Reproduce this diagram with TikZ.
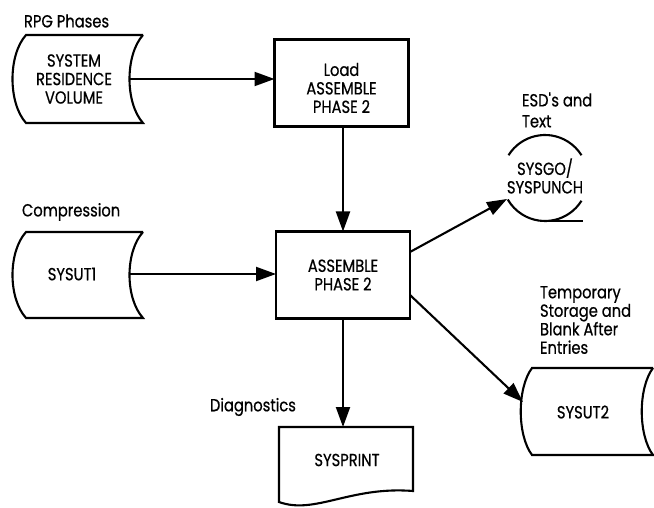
\documentclass[tikz,border=0pt]{standalone}
\usepackage{fontspec}
\setmainfont{Poppins}[FakeStretch=0.84, FakeBold=0.6]
\usetikzlibrary{arrows.meta}
\begin{document}
\begin{tikzpicture}[x=1pt,y=-1pt,
  line width=2.1pt,
  every node/.style={inner sep=0pt, outer sep=0pt, align=center,
    font=\fontsize{17.5}{18.5}\selectfont},
  lbl/.style={align=left, anchor=west},
  flow/.style={-{Triangle[length=20pt,width=14pt]}},
  procbox/.style={draw, minimum width=134pt, minimum height=87pt},
]
\useasboundingbox (0,0) rectangle (654,508);

% --- online storage: system residence volume
\draw (143,35) -- (26,35) .. controls (8,55) and (8,103) .. (26,123)
      -- (143,123) .. controls (125,103) and (125,55) .. (143,35);
\node (srv) at (74,79) {SYSTEM\\RESIDENCE\\VOLUME};
\coordinate (srvout) at (129,79);
\node[lbl] (rpg) at (24,21) {RPG Phases};

% --- online storage: SYSUT1
\draw (143,232) -- (26,232) .. controls (8,252) and (8,298) .. (26,318)
      -- (143,318) .. controls (125,298) and (125,252) .. (143,232);
\node (ut1) at (72,274) {SYSUT1};
\coordinate (ut1out) at (129,274);
\node[lbl] (compr) at (22,212) {Compression};

% --- process boxes
\node[procbox] (load) at (341.5,83) {};
\node (loadtxt) at (341.5,88) {Load\\ASSEMBLE\\PHASE 2};
\node[procbox] (asm) at (343,275) {ASSEMBLE\\PHASE 2};

% --- magnetic tape: SYSGO/SYSPUNCH
\node (tape) at (545,176) {SYSGO/\\SYSPUNCH};
\coordinate (tapec) at (545,178);
\draw (tapec) ++(212:43) arc[start angle=212, end angle=328, radius=43];
\draw (tapec) ++(32:43) arc[start angle=32, end angle=150, radius=43];
\draw (tapec) ++(0,43) -- ++(38,0);
\coordinate (tapein) at (507,199);
\node[lbl] (esd) at (522,110) {ESD\textquotesingle s and\\[2.5pt]Text};

% --- online storage: SYSUT2
\draw (653,368) -- (532,368) .. controls (517,388) and (517,435) .. (532,455)
      -- (653,455) .. controls (638,435) and (638,388) .. (653,368);
\node (ut2) at (583,412) {SYSUT2};
\coordinate (ut2in) at (523,402);
\node[lbl] (temp) at (540,320) {Temporary\\Storage and\\Blank After\\Entries};

% --- document: SYSPRINT
\node (prt) at (347,460) {SYSPRINT};
\draw (279,502) -- (279,427) -- (413,427) -- (413,491)
      .. controls (350,486) and (315,515) .. cycle;
\coordinate (prtin) at (343,427);
\node[lbl] (diag) at (210,407) {Diagnostics};

% --- flow lines
\draw[flow] (srvout) -- (srvout -| load.west);
\draw[flow] (asm.north |- load.south) -- (asm.north);
\draw[flow] (ut1out) -- (ut1out -| asm.west);
\draw[flow] ([yshift=23pt]asm.east) -- (tapein);
\draw[flow] ([yshift=-20pt]asm.east) -- (ut2in);
\draw[flow] (asm.south) -- (asm.south |- prtin);
\end{tikzpicture}
\end{document}
